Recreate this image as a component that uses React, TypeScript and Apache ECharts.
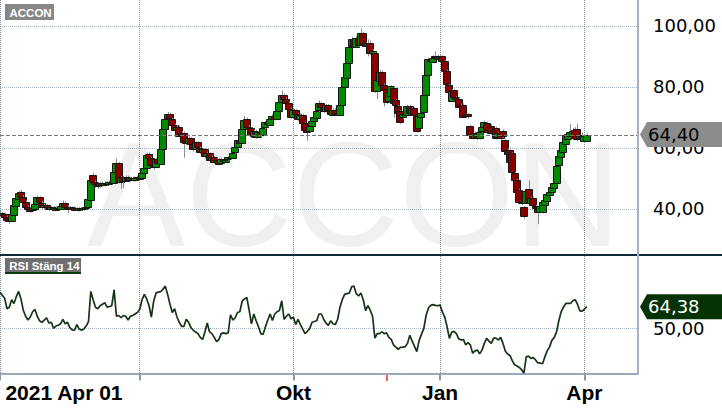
import React, { useEffect, useRef } from 'react';
import * as echarts from 'echarts';

// [open, close, low, high] per trading day, 2021-04-01 .. 2022-04-04
const candles: number[][] = [
  [38.6, 37.9, 37.2, 39.4], [37.9, 38.6, 37.5, 39.0], [38.4, 37.4, 36.8, 38.8], [37.4, 36.4, 35.8, 37.8], [36.6, 35.8, 35.2, 37.2],
  [36.0, 38.2, 35.8, 38.6], [38.0, 41.2, 37.8, 41.8], [41.0, 43.6, 40.6, 44.8], [43.5, 45.4, 43.0, 46.0], [45.5, 44.0, 43.4, 46.2],
  [44.0, 42.2, 41.6, 44.6], [42.2, 40.6, 40.0, 42.8], [40.6, 40.0, 39.2, 41.2], [40.0, 39.4, 38.8, 40.6], [39.5, 40.2, 39.0, 40.8],
  [40.2, 41.8, 39.8, 42.4], [41.6, 43.8, 41.2, 44.4], [43.8, 42.0, 41.4, 44.2], [42.0, 40.6, 40.0, 42.6], [40.6, 41.2, 40.0, 41.8],
  [41.2, 40.4, 39.8, 41.6], [40.4, 40.0, 39.4, 40.8], [40.0, 40.6, 39.6, 41.0], [40.6, 39.8, 39.4, 41.0], [39.8, 40.4, 39.4, 40.8],
  [40.4, 40.0, 39.6, 40.8], [40.0, 41.0, 39.8, 41.6], [41.0, 42.0, 40.6, 42.8], [42.0, 40.8, 40.2, 42.4], [40.8, 40.2, 38.6, 41.2],
  [40.2, 40.6, 39.6, 41.0], [40.6, 39.8, 39.4, 40.8], [39.8, 40.4, 39.4, 40.8], [40.4, 39.6, 39.2, 40.6], [39.6, 40.2, 39.2, 40.6],
  [40.2, 39.8, 39.4, 40.6], [39.8, 40.2, 39.4, 40.6], [40.2, 40.6, 39.8, 41.0], [40.6, 43.2, 40.4, 43.6], [43.2, 49.6, 43.0, 50.2],
  [51.0, 48.8, 48.4, 51.8], [48.8, 48.2, 47.0, 49.4], [48.2, 47.6, 46.6, 48.8], [47.6, 48.4, 47.0, 48.8], [48.4, 47.8, 47.2, 49.0],
  [47.8, 48.6, 47.4, 49.0], [48.6, 48.2, 47.6, 49.2], [48.2, 49.0, 47.8, 49.4], [49.0, 48.6, 48.0, 49.6], [48.6, 52.2, 48.4, 52.6],
  [52.2, 55.0, 51.8, 56.6], [55.0, 48.8, 48.4, 55.4], [48.8, 50.4, 46.6, 50.8], [50.4, 49.2, 46.8, 50.8], [49.2, 50.6, 49.0, 51.0],
  [50.6, 49.6, 49.2, 51.0], [49.6, 50.2, 49.0, 50.6], [50.2, 49.4, 49.0, 50.6], [49.4, 50.2, 49.0, 50.6], [50.2, 50.6, 49.8, 51.0],
  [50.6, 50.0, 49.6, 51.0], [50.0, 51.8, 49.8, 52.2], [51.8, 53.6, 51.4, 54.0], [53.6, 57.8, 53.4, 58.4], [58.0, 56.8, 56.2, 58.6],
  [56.8, 54.4, 53.8, 57.2], [54.4, 53.8, 53.0, 55.0], [53.8, 56.4, 53.4, 56.8], [56.4, 55.0, 54.4, 57.0], [55.0, 59.8, 54.8, 60.2],
  [59.8, 66.2, 59.6, 66.8], [66.2, 69.4, 65.8, 70.0], [69.6, 71.0, 69.0, 71.8], [71.0, 69.6, 69.0, 71.6], [69.6, 67.6, 67.0, 70.0],
  [67.6, 66.0, 65.4, 68.0], [66.0, 67.0, 65.4, 67.6], [67.0, 64.2, 63.6, 67.4], [64.2, 65.0, 63.6, 65.6], [65.0, 62.2, 56.8, 65.4],
  [62.2, 61.6, 60.8, 62.8], [61.6, 63.2, 61.2, 63.8], [63.2, 61.2, 60.6, 63.6], [61.2, 59.6, 58.8, 61.6], [59.6, 61.8, 59.2, 62.2],
  [61.8, 60.0, 58.6, 62.2], [60.0, 58.6, 58.0, 60.4], [58.6, 59.6, 57.6, 60.0], [59.6, 57.2, 56.6, 60.0], [57.2, 58.2, 56.8, 58.8],
  [58.2, 56.0, 55.4, 58.6], [56.0, 57.0, 55.6, 57.6], [57.0, 55.4, 54.8, 57.4], [55.4, 56.2, 55.0, 56.8], [56.2, 55.0, 54.4, 56.6],
  [55.0, 56.4, 54.6, 56.8], [56.4, 55.6, 55.0, 56.8], [55.6, 56.2, 55.2, 56.6], [56.2, 57.0, 55.8, 57.4], [57.0, 56.6, 56.0, 57.6],
  [56.6, 58.4, 56.4, 58.8], [58.4, 60.2, 58.0, 60.6], [60.2, 62.6, 59.8, 63.0], [62.6, 61.6, 61.0, 63.0], [61.6, 66.2, 61.4, 66.6],
  [66.2, 69.2, 65.8, 70.4], [69.6, 67.0, 66.4, 70.0], [67.0, 66.4, 65.8, 67.6], [66.4, 64.0, 63.2, 66.8], [64.0, 65.6, 63.6, 66.0],
  [65.6, 63.6, 63.0, 66.0], [63.6, 65.2, 63.2, 65.6], [65.2, 64.2, 63.6, 65.6], [64.2, 66.6, 63.8, 67.0], [66.6, 68.4, 66.2, 68.8],
  [68.4, 67.6, 67.0, 69.0], [67.6, 69.6, 67.2, 70.0], [69.6, 70.6, 69.0, 71.2], [70.6, 69.6, 69.0, 71.0], [69.6, 72.2, 69.4, 72.6],
  [72.2, 75.2, 71.8, 75.8], [75.2, 77.4, 74.8, 78.8], [77.4, 76.0, 75.4, 77.8], [76.0, 74.8, 74.2, 76.6], [74.8, 72.8, 70.2, 75.2],
  [72.8, 70.2, 69.6, 73.2], [70.2, 72.4, 69.8, 72.8], [72.4, 71.0, 70.4, 72.8], [71.0, 69.4, 68.8, 71.4], [69.4, 70.8, 69.0, 71.4],
  [70.8, 68.2, 67.6, 71.2], [68.2, 66.0, 65.2, 68.6], [66.0, 65.4, 62.4, 66.6], [65.4, 67.2, 65.0, 67.6], [67.2, 68.8, 66.8, 69.2],
  [68.8, 70.0, 68.4, 70.4], [70.0, 72.2, 69.6, 72.6], [72.2, 74.6, 71.8, 75.6], [74.6, 73.4, 72.8, 75.0], [73.4, 72.0, 71.4, 73.8],
  [72.0, 74.0, 71.6, 74.4], [74.0, 72.4, 71.8, 74.4], [72.4, 71.0, 70.4, 72.8], [71.0, 72.6, 70.6, 73.0], [72.6, 71.4, 70.8, 73.0],
  [71.4, 71.0, 70.4, 71.8], [71.0, 74.2, 70.8, 74.6], [74.2, 80.0, 73.8, 80.6], [80.0, 83.2, 79.6, 83.8], [83.2, 88.0, 82.8, 88.6],
  [88.0, 93.2, 87.6, 93.8], [93.2, 95.6, 92.8, 96.4], [95.6, 93.4, 92.8, 96.0], [93.4, 96.2, 93.0, 96.8], [96.2, 93.8, 93.2, 96.6],
  [93.8, 97.6, 93.4, 99.2], [97.6, 94.0, 93.4, 98.0], [94.0, 93.4, 92.6, 94.6], [93.4, 94.4, 90.0, 95.6], [94.4, 91.0, 90.4, 95.2],
  [91.0, 91.8, 90.4, 92.4], [91.0, 78.6, 78.0, 91.4], [78.6, 82.2, 76.0, 82.6], [82.2, 85.0, 81.8, 85.6], [85.0, 80.8, 80.2, 85.4],
  [80.8, 79.2, 73.6, 81.2], [79.2, 75.0, 74.4, 79.6], [75.2, 78.2, 74.8, 78.6], [77.0, 80.2, 76.6, 80.6], [79.8, 75.0, 70.0, 80.2],
  [75.6, 73.8, 73.0, 76.0], [73.8, 71.6, 71.0, 74.2], [72.0, 68.4, 67.8, 72.4], [70.0, 71.0, 69.4, 71.4], [71.0, 70.8, 70.2, 71.4],
  [70.8, 73.6, 70.4, 74.2], [73.8, 71.4, 70.8, 74.2], [71.4, 73.0, 71.0, 73.4], [73.0, 70.6, 68.0, 73.4], [70.6, 65.6, 65.0, 71.0],
  [66.6, 70.4, 66.2, 71.6], [70.4, 71.6, 70.0, 72.0], [71.6, 77.2, 71.4, 77.6], [77.2, 83.8, 77.0, 84.2], [84.0, 89.2, 83.8, 89.6],
  [89.0, 88.2, 87.6, 90.2], [88.4, 89.6, 88.0, 90.4], [89.6, 90.0, 89.0, 91.6], [90.0, 89.0, 88.4, 90.6], [89.0, 89.8, 88.6, 90.4],
  [90.0, 88.4, 87.8, 90.4], [88.4, 85.2, 84.6, 88.8], [85.2, 80.8, 80.2, 85.6], [80.6, 78.2, 77.4, 81.0], [75.4, 78.8, 75.0, 79.4],
  [79.0, 76.8, 76.2, 79.4], [76.6, 76.0, 75.4, 77.0], [76.2, 73.6, 73.0, 76.6], [73.6, 74.0, 73.0, 74.6], [74.2, 70.4, 69.8, 74.6],
  [70.4, 70.8, 70.0, 71.2], [71.0, 70.2, 69.6, 71.4], [67.2, 64.4, 63.8, 67.6], [64.4, 63.4, 62.8, 65.0], [63.4, 65.0, 63.0, 65.4],
  [65.0, 63.2, 62.6, 65.4], [63.2, 65.2, 62.8, 65.6], [65.4, 66.8, 65.0, 67.2], [66.6, 68.4, 66.2, 69.0], [68.2, 65.4, 64.8, 68.6],
  [65.4, 66.0, 65.0, 66.6], [67.2, 64.8, 64.2, 67.8], [64.8, 65.6, 64.2, 66.0], [66.6, 63.4, 62.8, 67.0], [63.4, 64.8, 63.0, 65.2],
  [64.8, 63.2, 62.6, 65.2], [65.6, 63.8, 63.2, 66.0], [62.6, 59.0, 58.4, 63.0], [59.4, 58.0, 57.4, 59.8], [59.2, 55.2, 54.6, 59.6],
  [58.2, 52.0, 51.4, 58.6], [51.8, 49.6, 49.0, 52.2], [49.4, 45.6, 45.0, 49.8], [46.2, 42.4, 41.8, 46.6], [42.4, 42.0, 41.2, 43.0],
  [40.6, 37.6, 36.8, 41.0], [42.2, 46.0, 41.8, 46.6], [46.6, 42.4, 41.8, 49.4], [42.0, 43.6, 41.6, 44.0], [43.6, 41.2, 40.6, 44.0],
  [41.0, 40.4, 39.8, 41.4], [40.6, 39.0, 35.0, 41.0], [39.0, 41.0, 38.6, 41.4], [39.0, 42.2, 38.6, 42.6], [41.4, 43.0, 41.0, 43.4],
  [42.4, 44.8, 42.0, 45.2], [44.6, 45.6, 44.0, 46.2], [45.4, 47.2, 45.0, 47.6], [46.8, 48.4, 46.4, 48.8], [48.4, 54.0, 48.0, 54.4],
  [54.4, 57.4, 54.0, 57.8], [57.0, 59.2, 56.6, 59.6], [58.8, 62.0, 58.4, 62.4], [61.2, 64.2, 60.8, 64.6], [63.0, 64.6, 62.6, 65.2],
  [64.0, 65.2, 63.4, 67.8], [64.2, 65.6, 63.0, 66.6], [66.0, 63.4, 62.6, 66.8], [66.2, 63.0, 62.2, 68.0], [63.0, 63.8, 62.4, 64.4],
  [64.4, 63.2, 62.6, 65.0], [62.4, 64.0, 61.8, 64.6], [62.4, 64.4, 62.0, 64.8],
];

// RSI (close, 14)
const rsi: number[] = [
  74, 72, 70, 63, 64, 69, 66.5, 71, 74.5, 69.5,
  62, 58, 55.5, 57.5, 61, 62.5, 58, 55, 54, 55.5,
  57, 53.5, 54, 50, 51.5, 52, 53, 56, 53, 54,
  50.5, 49, 48.7, 52.5, 49.5, 48.7, 49.5, 51.5, 54.5, 74.5,
  69, 64, 63, 65, 66, 67, 64, 64.5, 65, 75.5,
  58, 58.5, 57, 58.5, 58, 55.5, 58, 58.5, 59.5, 60.5,
  62.5, 69, 72.5, 69.5, 65, 57.5, 68, 73.5, 74, 74.3,
  76, 78, 72.5, 66, 60.5, 63, 57.5, 54, 51.3, 51.3,
  56, 54, 50.5, 48.7, 47.5, 46.5, 44, 42.6, 47.5, 53.5,
  47.6, 46.5, 44, 41.1, 42.5, 46.5, 47, 46.5, 47, 59,
  55.5, 57, 60.5, 61, 68, 69.5, 70.5, 62, 53, 59.5,
  55, 51, 46.5, 46, 51, 55.5, 59.5, 55.2, 59.5, 61,
  61.8, 68.3, 56, 58, 59.5, 56.3, 57.4, 52.5, 56, 52.5,
  49.5, 46.5, 48, 49.8, 54, 54.5, 55, 59.5, 59.5, 56,
  53.5, 52, 55, 53, 52.5, 56, 63.9, 69, 72.5, 73,
  73.3, 77.5, 78.1, 73, 71.5, 73.5, 69, 61.8, 65, 62,
  58, 43.5, 46.5, 46.5, 47.6, 46.5, 47, 44, 42.6, 39,
  37.5, 36.1, 37.4, 37.5, 37.8, 40, 45.4, 41.5, 38, 34.5,
  42, 46, 49.8, 58.5, 63.5, 65.2, 65.7, 65.2, 65, 65.4,
  60.7, 57.5, 51, 43.3, 47.5, 48, 46.5, 43, 42.2, 42.6,
  39, 40.5, 39, 33.5, 35, 35.6, 33, 35.5, 40, 43.3,
  41.5, 40, 43.5, 43.5, 42.2, 44, 40, 35, 33, 32,
  28.5, 25.8, 25, 24, 22.5, 20.3, 31, 31.5, 30, 30.5,
  29, 27, 27, 26.5, 31, 35, 37.5, 42, 43.8, 47.5,
  55, 61, 64, 66.5, 66.5, 66.5, 68.3, 69, 66, 61.6,
  61.4, 62.8, 64.38,
];

const slotCount = 275; // trading-day slots across the plot
const tickIndex = [0, 60, 126, 189, 251];
const tickLabels = ['2021 Apr 01', '', 'Okt', 'Jan', 'Apr'];
const priceTicks = [40, 60, 80, 100];
const rsiTicks = [50];
const eventIndex = 166;
const title = 'ACCON';
const rsiTitle = 'RSI Stäng 14';

const fmt = (v: number) => Number(v).toFixed(2).replace('.', ',');

export default function App() {
  const ref = useRef<HTMLDivElement>(null);
  useEffect(() => {
    if (!ref.current) return;
    const chart = echarts.init(ref.current, undefined, { renderer: 'svg' });
    const cats = Array.from({ length: slotCount }, (_, i) => String(i));
    const labelMap: Record<string, string> = {};
    tickIndex.forEach((t, k) => (labelMap[String(t)] = tickLabels[k]));
    const isTick = (i: number) => tickIndex.indexOf(i) >= 0;
    const vGrid = { show: true, interval: (i: number) => isTick(i), lineStyle: { color: '#7f8f9b', type: [1, 1], width: 1 } };
    const lastPrice = candles[candles.length - 1][1];
    const lastRsi = rsi[rsi.length - 1];

    chart.setOption({
      animation: false,
      backgroundColor: '#ffffff',
      grid: [
        { left: 0, top: 0, width: 638, height: 254 },
        { left: 0, top: 256, width: 638, height: 117.5 },
      ],
      xAxis: [
        {
          type: 'category', gridIndex: 0, data: cats, boundaryGap: false,
          axisLine: { show: false }, axisTick: { show: false }, axisLabel: { show: false },
          splitLine: vGrid,
        },
        {
          type: 'category', gridIndex: 1, data: cats, boundaryGap: false,
          axisLine: { show: true, lineStyle: { color: '#9aaabb', width: 2 } },
          axisTick: { show: true, interval: (i: number) => isTick(i), length: 7, lineStyle: { color: '#8a9bb0', width: 2 } },
          axisLabel: {
            interval: (i: number) => isTick(i),
            formatter: (v: string) => (v === '0' ? '{first|' + labelMap[v] + '}' : labelMap[v] || ''),
            fontFamily: 'Liberation Sans', fontWeight: 'bold', fontSize: 21, color: '#000', margin: 8,
            rich: { first: { fontFamily: 'Liberation Sans', fontWeight: 'bold', fontSize: 21, color: '#000', padding: [0, 0, 0, 128] } },
          },
          splitLine: vGrid,
        },
      ],
      yAxis: [
        {
          type: 'value', gridIndex: 0, position: 'right', min: 25.25, max: 108.5,
          axisLine: { show: false }, axisTick: { show: false, customValues: priceTicks },
          axisLabel: { customValues: priceTicks, formatter: fmt, fontFamily: 'DejaVu Sans', fontSize: 18, color: '#000', margin: 15 },
          splitLine: { show: true, lineStyle: { color: '#aab6bf', type: [1, 1], width: 1 } },
        },
        {
          type: 'value', gridIndex: 1, position: 'right', min: 20, max: 98,
          axisLine: { show: false }, axisTick: { show: false, customValues: rsiTicks },
          axisLabel: { customValues: rsiTicks, formatter: fmt, fontFamily: 'DejaVu Sans', fontSize: 18, color: '#000', margin: 15 },
          splitLine: { show: true, lineStyle: { color: '#aab6bf', type: [1, 1], width: 1 } },
        },
      ],
      series: [
        {
          type: 'custom', xAxisIndex: 0, yAxisIndex: 0, clip: true, z: 3,
          data: candles.map((c, i) => [i, c[0], c[1], c[2], c[3]]),
          encode: { x: 0, y: [1, 2, 3, 4] },
          renderItem: (params: any, api: any) => {
            const i = api.value(0);
            const o = api.value(1), c = api.value(2), l = api.value(3), h = api.value(4);
            const p = api.coord([i, o]);
            const cx = Math.round(p[0]);
            const yO = p[1];
            const yC = api.coord([i, c])[1];
            const yL = api.coord([i, l])[1];
            const yH = api.coord([i, h])[1];
            const up = c >= o;
            const top = Math.round(Math.min(yO, yC)) + 0.5;
            const bh = Math.max(Math.round(Math.abs(yO - yC)), 1);
            return {
              type: 'group',
              children: [
                { type: 'line', shape: { x1: cx + 0.5, y1: yH, x2: cx + 0.5, y2: yL }, style: { stroke: '#8c8c8c', lineWidth: 1 } },
                { type: 'rect', shape: { x: cx - 3.5, y: top, width: 7, height: bh }, style: { fill: up ? '#008a00' : '#870000', stroke: '#161616', lineWidth: 1 } },
              ],
            };
          },
        },
        {
          type: 'line', xAxisIndex: 1, yAxisIndex: 1, data: rsi, showSymbol: false, symbol: 'none', z: 3,
          lineStyle: { color: '#163416', width: 1.7 },
        },
      ],
    });

    const yP = chart.convertToPixel({ yAxisIndex: 0 }, lastPrice) as number;
    const yR = chart.convertToPixel({ yAxisIndex: 1 }, lastRsi) as number;
    const xE = chart.convertToPixel({ xAxisIndex: 1 }, eventIndex) as number;
    const arrowBox = (y: number) => [[640, y], [647, y - 12.5], [722, y - 12.5], [722, y + 12.5], [647, y + 12.5]];
    const txt = (id: string, text: string, x: number, y: number, font: string, fill: string, z = 50, align = 'left') => ({
      type: 'text', id, z, silent: true,
      style: { text, x, y, font, fill, align, verticalAlign: 'middle', textAlign: align, textVerticalAlign: 'middle' },
    });

    chart.setOption({
      graphic: [
        txt('wm', title, 354, 194, '148px "Liberation Sans"', '#f0f0f0', -10, 'center'),
        { type: 'line', id: 'lastLine', z: 4, silent: true, shape: { x1: 0, y1: Math.round(yP) + 0.5, x2: 637, y2: Math.round(yP) + 0.5 }, style: { stroke: '#777777', lineWidth: 1, lineDash: [4, 2] } },
        { type: 'line', id: 'sep', z: 20, silent: true, shape: { x1: 0, y1: 255, x2: 722, y2: 255 }, style: { stroke: '#0e2a3c', lineWidth: 2 } },
        { type: 'line', id: 'rborder', z: 20, silent: true, shape: { x1: 638, y1: 0, x2: 638, y2: 374 }, style: { stroke: '#a3b2c2', lineWidth: 2 } },
        { type: 'rect', id: 'ev', z: 20, silent: true, shape: { x: Math.round(xE) - 1, y: 375, width: 2, height: 6 }, style: { fill: '#ff5a5a' } },
        { type: 'rect', id: 'tbox', z: 30, silent: true, shape: { x: 5, y: 4, width: 49, height: 16 }, style: { fill: '#878787' } },
        txt('ttxt', title, 9.5, 12.5, 'bold 11.5px "Liberation Sans"', '#ffffff'),
        { type: 'rect', id: 'rbox', z: 30, silent: true, shape: { x: 5, y: 258, width: 76, height: 14 }, style: { fill: '#6f6f6f' } },
        { type: 'rect', id: 'rund', z: 30, silent: true, shape: { x: 5, y: 272, width: 76, height: 2 }, style: { fill: '#0d3a0d' } },
        txt('rtxt', rsiTitle, 9.3, 265.5, 'bold 11.5px "Liberation Sans"', '#ffffff'),
        { type: 'polygon', id: 'pbox', z: 40, silent: true, shape: { points: arrowBox(yP) }, style: { fill: '#8c8c8c' } },
        txt('ptxt', fmt(lastPrice), 648, yP, '18px "DejaVu Sans"', '#000000'),
        { type: 'polygon', id: 'rsbox', z: 40, silent: true, shape: { points: arrowBox(yR) }, style: { fill: '#053305' } },
        txt('rstxt', fmt(lastRsi), 648, yR, '18px "DejaVu Sans"', '#ffffff'),
      ],
    });

    return () => chart.dispose();
  }, []);
  return <div ref={ref} style={{ position: 'absolute', left: 0, top: 0, width: 722, height: 410 }} />;
}
